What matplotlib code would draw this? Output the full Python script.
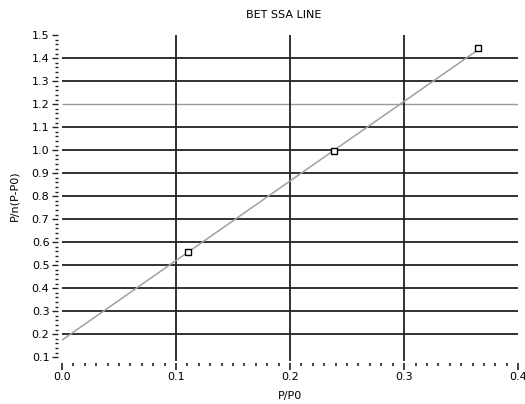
import numpy as np
import matplotlib.pyplot as plt
from matplotlib.ticker import MultipleLocator

# Data
p_ratio = [0.1105, 0.2386, 0.365]          # P/P0
bet_y = [0.557, 0.996, 1.443]              # P/n(P-P0)
fit_x = [0.0, 0.365]                       # fitted BET line ends
fit_y = [0.174, 1.437]

x_major = [0.0, 0.1, 0.2, 0.3, 0.4]
y_major = [0.1, 0.2, 0.3, 0.4, 0.5, 0.6, 0.7, 0.8, 0.9, 1.0, 1.1, 1.2, 1.3, 1.4, 1.5]
x_grid = [0.1, 0.2, 0.3]
y_grid = [0.2, 0.3, 0.4, 0.5, 0.6, 0.7, 0.8, 0.9, 1.0, 1.1, 1.3, 1.4]
y_grid_light = [1.2]

plt.rcParams['font.family'] = ['DejaVu Sans']

fig = plt.figure(figsize=(5.25, 4.04), dpi=100)
ax = fig.add_axes([0.118, 0.116, 0.869, 0.797])

ax.set_xlim(0, 0.4)
ax.set_ylim(0.1, 1.5)

# grid lines drawn by hand so the edges stay empty
ax.hlines(y_grid, 0, 0.4, colors='#222222', linewidth=1.3, zorder=1)
ax.hlines(y_grid_light, 0, 0.4, colors='#9a9a9a', linewidth=1.0, zorder=1)
ax.vlines(x_grid, 0.082, 1.5, colors='#222222', linewidth=1.3, zorder=1, clip_on=False)

ax.plot(fit_x, fit_y, color='#a0a0a0', linewidth=1.1, zorder=2)
ax.plot(p_ratio, bet_y, linestyle='none', marker='s', markersize=4.5,
        markerfacecolor='white', markeredgecolor='black', markeredgewidth=1.0, zorder=3)

for s in ax.spines.values():
    s.set_visible(False)

ax.set_xticks(x_major)
ax.set_yticks(y_major)
ax.xaxis.set_minor_locator(MultipleLocator(0.01))
ax.yaxis.set_minor_locator(MultipleLocator(0.02))
ax.tick_params(axis='x', which='major', length=5, width=1.2, pad=2, labelsize=8, color='#222222')
ax.tick_params(axis='x', which='minor', length=2.5, width=1.2, color='#222222')
ax.tick_params(axis='y', which='major', length=4, width=1.0, pad=2, labelsize=8, color='#222222')
ax.tick_params(axis='y', which='minor', length=2.5, width=1.0, color='#222222')
ax.spines['bottom'].set_position(('outward', 4))
ax.spines['left'].set_position(('outward', 3))

ax.set_xlabel('P/P0', fontsize=8, labelpad=6)
ax.set_ylabel('P/n(P-P0)', fontsize=8, labelpad=9)
ax.set_title('BET SSA LINE', fontsize=8, pad=12, x=0.485)

fig.savefig('out.png', dpi=100)
